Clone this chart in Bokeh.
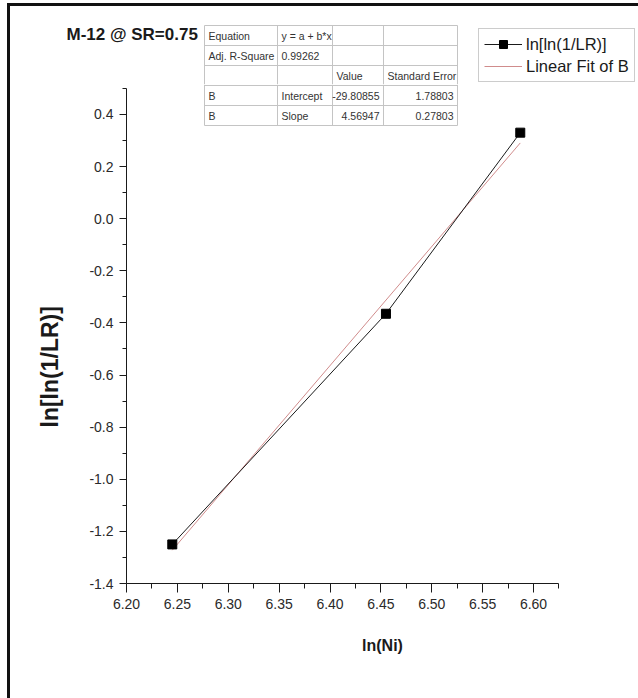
from bokeh.plotting import figure
from bokeh.layouts import column
from bokeh.models import (Range1d, LinearAxis, FixedTicker, NumeralTickFormatter,
                          Legend, LegendItem, Title)
from bokeh.embed import file_html
from bokeh.resources import INLINE
from bokeh.core.properties import value

# ln(Ni) against ln[ln(1/LR)] for M-12 at SR = 0.75
ln_ni = [6.245, 6.455, 6.587]
lnln_inv_lr = [-1.25, -0.365, 0.33]

# linear fit of B
fit_equation = "y = a + b*x"
fit_adj_r2 = 0.99262
fit_intercept = -29.80855
fit_intercept_se = 1.78803
fit_slope = 4.56947
fit_slope_se = 0.27803

x_ticks = [6.20, 6.25, 6.30, 6.35, 6.40, 6.45, 6.50, 6.55, 6.60]
x_minor_ticks = [6.225, 6.275, 6.325, 6.375, 6.425, 6.475, 6.525, 6.575, 6.625]
y_ticks = [-1.4, -1.2, -1.0, -0.8, -0.6, -0.4, -0.2, 0.0, 0.2, 0.4]
y_minor_ticks = [-1.3, -1.1, -0.9, -0.7, -0.5, -0.3, -0.1, 0.1, 0.3, 0.5]

FONT = "Liberation Sans"
INK = "#1a1a1a"
FIT_COLOR = "#d08c8c"

# page geometry in pixels: the two canvases sit inside a framed border
OFF_X, OFF_Y = 10, 6
W = 628
SPLIT_Y = 84            # page row where the header strip ends and the plot begins
TOP_H = SPLIT_Y - OFF_Y
MAIN_H = 698 - SPLIT_Y
FRAME_LEFT = 116
AXIS_Y = 583            # page row of the x axis
X_START, X_PX = 6.20, 1017.5
Y_START, Y_PX = -1.4, 260.6


def main_x(page_x):
    return X_START + (page_x - OFF_X - FRAME_LEFT) / X_PX


def main_y(page_y):
    return Y_START + (AXIS_Y - page_y) / Y_PX


def top_x(page_x):
    return page_x - OFF_X


def top_y(page_y):
    return page_y - OFF_Y


# ---------------- header strip: title, upper table rows, legend ----------------
top = figure(width=W, height=TOP_H, x_range=Range1d(0, W), y_range=Range1d(TOP_H, 0),
             x_axis_type=None, y_axis_type=None, output_backend="svg",
             toolbar_location=None, title=None, min_border=0)
top.outline_line_color = None
top.frame_align = False

top.text([top_x(66)], [top_y(34)], text=["M-12 @ SR=0.75"], text_font=value(FONT),
         text_font_size="17px", text_font_style="bold", text_color=INK,
         text_align="left", text_baseline="middle")

# ---------------- main plot ----------------
p = figure(
    width=W, height=MAIN_H,
    x_range=Range1d(X_START, X_START + (W - FRAME_LEFT) / X_PX),
    y_range=Range1d(Y_START, Y_START + (AXIS_Y - SPLIT_Y) / Y_PX),
    x_axis_type=None, y_axis_type=None,
    output_backend="svg", toolbar_location=None, title=None,
    min_border_left=FRAME_LEFT, min_border_bottom=MAIN_H - (AXIS_Y - SPLIT_Y),
    min_border_top=0, min_border_right=0,
)
p.outline_line_color = None
p.frame_align = False


def style_axis(ax, tick_out, minor_out):
    ax.axis_line_color = INK
    ax.major_tick_line_color = INK
    ax.minor_tick_line_color = INK
    ax.major_tick_in = 0
    ax.major_tick_out = tick_out
    ax.minor_tick_in = 0
    ax.minor_tick_out = minor_out
    ax.major_label_text_font = FONT
    ax.major_label_text_font_size = "14px"
    ax.major_label_text_color = "#2a2a2a"
    ax.major_label_standoff = 6


xaxis = LinearAxis(
    bounds=(6.20, 6.625),
    ticker=FixedTicker(ticks=x_ticks, minor_ticks=x_minor_ticks),
    formatter=NumeralTickFormatter(format="0.00"),
    axis_label="ln(Ni)",
)
style_axis(xaxis, 9, 5)
xaxis.axis_label_text_font = FONT
xaxis.axis_label_text_font_size = "16px"
xaxis.axis_label_text_font_style = "bold"
xaxis.axis_label_text_color = INK
xaxis.axis_label_standoff = 25
p.add_layout(xaxis, "below")

yaxis = LinearAxis(
    bounds=(-1.4, 0.5),
    ticker=FixedTicker(ticks=y_ticks, minor_ticks=y_minor_ticks),
    formatter=NumeralTickFormatter(format="0.0"),
)
style_axis(yaxis, 7, 4)
p.add_layout(yaxis, "left")

# y axis title, set in the left panel so it can sit lower than the frame centre
p.add_layout(Title(text="ln[ln(1/LR)]", align="left", vertical_align="bottom",
                   offset=AXIS_Y - 427, standoff=48, text_font=FONT,
                   text_font_size="23px", text_font_style="bold", text_color=INK), "left")

# fitted straight line over the measured span
fit_x = [min(ln_ni), max(ln_ni)]
fit_y = [fit_intercept + fit_slope * v for v in fit_x]
p.line(fit_x, fit_y, line_color=FIT_COLOR, line_width=1)

p.line(ln_ni, lnln_inv_lr, line_color=INK, line_width=1)
p.scatter(ln_ni, lnln_inv_lr, marker="square", size=9, fill_color="#000", line_color="#000")

# ---------------- fit results table (split across both canvases) ----------------
rows = [
    ["Equation", fit_equation, "", ""],
    ["Adj. R-Square", f"{fit_adj_r2:.5f}", "", ""],
    ["", "", "Value", "Standard Error"],
    ["B", "Intercept", f"{fit_intercept:.5f}", f"{fit_intercept_se:.5f}"],
    ["B", "Slope", f"{fit_slope:.5f}", f"{fit_slope_se:.5f}"],
]
col_edges = [204, 277, 332, 383, 457]
row_edges = [25, 45, 65, 85, 105, 125]
GRID = "#c4c4c4"


def draw_table_part(fig, fx, fy, y_lo, y_hi, first_row, last_row):
    x0, y0, x1, y1 = [], [], [], []
    for ry in row_edges:
        if y_lo <= ry < y_hi:
            x0.append(fx(col_edges[0])); x1.append(fx(col_edges[-1]))
            y0.append(fy(ry)); y1.append(fy(ry))
    top_edge = max(row_edges[0], y_lo)
    bottom_edge = min(row_edges[-1], y_hi)
    for cx in col_edges:
        x0.append(fx(cx)); x1.append(fx(cx))
        y0.append(fy(top_edge)); y1.append(fy(bottom_edge))
    fig.segment(x0, y0, x1, y1, line_color=GRID, line_width=1)

    lx, ly, lt, rx, ry_, rt = [], [], [], [], [], []
    for ri in range(first_row, last_row):
        cy = fy((row_edges[ri] + row_edges[ri + 1]) / 2)
        for ci, txt in enumerate(rows[ri]):
            if not txt:
                continue
            if ri >= 3 and ci >= 2:
                rx.append(fx(col_edges[ci + 1] - 4)); ry_.append(cy); rt.append(txt)
            else:
                lx.append(fx(col_edges[ci] + 4)); ly.append(cy); lt.append(txt)
    common = dict(text_font=value(FONT), text_font_size="10.5px", text_color="#333",
                  text_baseline="middle")
    if lt:
        fig.text(lx, ly, text=lt, text_align="left", **common)
    if rt:
        fig.text(rx, ry_, text=rt, text_align="right", **common)


draw_table_part(top, top_x, top_y, 0, SPLIT_Y + 1, 0, 3)
draw_table_part(p, main_x, main_y, SPLIT_Y, 2000, 3, 5)

# ---------------- legend (in the header strip) ----------------
# legend swatches: renderers carrying no drawable points, styled like the plotted series
nan = float("nan")
leg_fit = top.line([nan, nan], [nan, nan], line_color=FIT_COLOR, line_width=1)
leg_line = top.line([nan, nan], [nan, nan], line_color=INK, line_width=1)
leg_pts = top.scatter([nan], [nan], marker="square", size=8, fill_color="#000", line_color="#000")
legend = Legend(
    items=[LegendItem(label="ln[ln(1/LR)]", renderers=[leg_line, leg_pts]),
           LegendItem(label="Linear Fit of B", renderers=[leg_fit])],
    location=(478 - OFF_X, SPLIT_Y - 82),
    label_text_font=FONT, label_text_font_size="16.5px", label_text_color=INK,
    border_line_color="#9a9a9a", border_line_width=1,
    padding=5, spacing=2, margin=0,
    glyph_width=38, glyph_height=20, label_height=20, label_standoff=4,
)
top.add_layout(legend, "center")

page = column(top, p, spacing=0)
page.styles = {
    "border-left": "3px solid #111",
    "border-top": "3px solid #111",
    "margin-left": "7px",
    "margin-top": "3px",
}

open("out.html", "w").write(file_html(page, INLINE))
